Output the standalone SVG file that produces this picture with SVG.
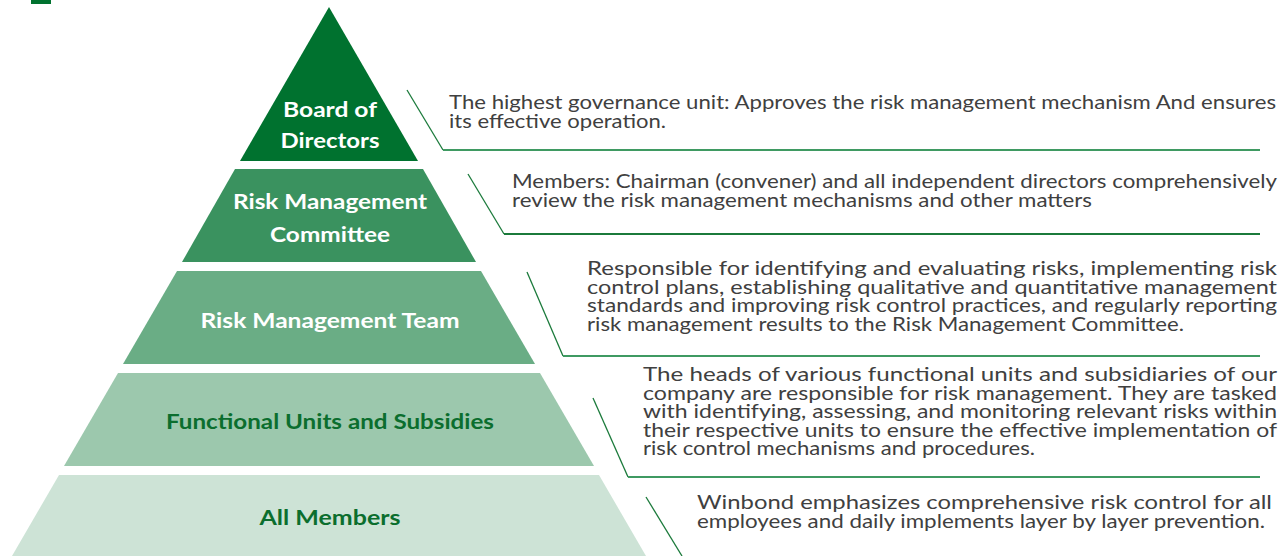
<svg xmlns="http://www.w3.org/2000/svg" width="1285" height="556" viewBox="0 0 1285 556">
<style>
.lbl{font-family:Lato,"Open Sans","Liberation Sans",sans-serif;font-weight:bold;font-size:21px;text-anchor:middle}
.w{fill:#ffffff}
.g{fill:#0b6e2e}
.desc{font-family:Lato,"Open Sans","Liberation Sans",sans-serif;font-size:19px;fill:#404040}
.diag{stroke:#1b7a3b;stroke-width:1.3;fill:none}
.hz{stroke:#3f9a62;stroke-width:2;fill:none}
.hz2{stroke:#1b7a3b;stroke-width:2;fill:none}
</style>
<rect x="31" y="0" width="20" height="4" fill="#00722f"/>
<g id="board">
<polygon points="329,7 240,161 418,161" fill="#00722f"/>
<text class="lbl w" x="330" y="117" textLength="94" lengthAdjust="spacingAndGlyphs">Board of</text>
<text class="lbl w" x="330" y="148" textLength="99" lengthAdjust="spacingAndGlyphs">Directors</text>
</g>
<g id="committee">
<polygon points="235,169 423,169 476,262 182,262" fill="#3a925f"/>
<text class="lbl w" x="330" y="209" textLength="194" lengthAdjust="spacingAndGlyphs">Risk Management</text>
<text class="lbl w" x="330" y="242" textLength="120" lengthAdjust="spacingAndGlyphs">Committee</text>
</g>
<g id="team">
<polygon points="177,271 481,271 535,364 123,364" fill="#6aad85"/>
<text class="lbl w" x="330" y="328" textLength="259" lengthAdjust="spacingAndGlyphs">Risk Management Team</text>
</g>
<g id="functional">
<polygon points="118,373 540,373 594,466 64,466" fill="#9cc8ad"/>
<text class="lbl g" x="330" y="429" textLength="328" lengthAdjust="spacingAndGlyphs">Functional Units and Subsidies</text>
</g>
<g id="members">
<polygon points="59,475 599,475 646,556 12,556" fill="#cde3d6"/>
<text class="lbl g" x="330" y="525" textLength="141" lengthAdjust="spacingAndGlyphs">All Members</text>
</g>
<g id="connectors">
<polyline class="diag" points="407,90 443,150"/>
<line class="hz" x1="443" y1="150" x2="1260" y2="150"/>
<polyline class="diag" points="468,174 504,234"/>
<line class="hz2" x1="504" y1="234" x2="1260" y2="234"/>
<polyline class="diag" points="527,272 563,356"/>
<line class="hz" x1="563" y1="356" x2="1260" y2="356"/>
<polyline class="diag" points="593,398 628,477"/>
<line class="hz" x1="628" y1="477" x2="1260" y2="477"/>
<polyline class="diag" points="646,497 682,556"/>
</g>
<g id="desc-board">
<text class="desc" x="449" y="109" textLength="827" lengthAdjust="spacingAndGlyphs">The highest governance unit: Approves the risk management mechanism And ensures</text>
<text class="desc" x="449" y="128" textLength="217" lengthAdjust="spacingAndGlyphs">its effective operation.</text>
</g>
<g id="desc-committee">
<text class="desc" x="512" y="188" textLength="765" lengthAdjust="spacingAndGlyphs">Members: Chairman (convener) and all independent directors comprehensively</text>
<text class="desc" x="512" y="207" textLength="580" lengthAdjust="spacingAndGlyphs">review the risk management mechanisms and other matters</text>
</g>
<g id="desc-team">
<text class="desc" x="587" y="275" textLength="690" lengthAdjust="spacingAndGlyphs">Responsible for identifying and evaluating risks, implementing risk</text>
<text class="desc" x="587" y="293.5" textLength="690" lengthAdjust="spacingAndGlyphs">control plans, establishing qualitative and quantitative management</text>
<text class="desc" x="587" y="312" textLength="690" lengthAdjust="spacingAndGlyphs">standards and improving risk control practices, and regularly reporting</text>
<text class="desc" x="587" y="330.5" textLength="597" lengthAdjust="spacingAndGlyphs">risk management results to the Risk Management Committee.</text>
</g>
<g id="desc-functional">
<text class="desc" x="643" y="381" textLength="634" lengthAdjust="spacingAndGlyphs">The heads of various functional units and subsidiaries of our</text>
<text class="desc" x="643" y="399.5" textLength="634" lengthAdjust="spacingAndGlyphs">company are responsible for risk management. They are tasked</text>
<text class="desc" x="643" y="418" textLength="634" lengthAdjust="spacingAndGlyphs">with identifying, assessing, and monitoring relevant risks within</text>
<text class="desc" x="643" y="436.5" textLength="634" lengthAdjust="spacingAndGlyphs">their respective units to ensure the effective implementation of</text>
<text class="desc" x="643" y="455" textLength="392" lengthAdjust="spacingAndGlyphs">risk control mechanisms and procedures.</text>
</g>
<g id="desc-members">
<text class="desc" x="697" y="509" textLength="575" lengthAdjust="spacingAndGlyphs">Winbond emphasizes comprehensive risk control for all</text>
<text class="desc" x="697" y="528" textLength="568" lengthAdjust="spacingAndGlyphs">employees and daily implements layer by layer prevention.</text>
</g>
</svg>
